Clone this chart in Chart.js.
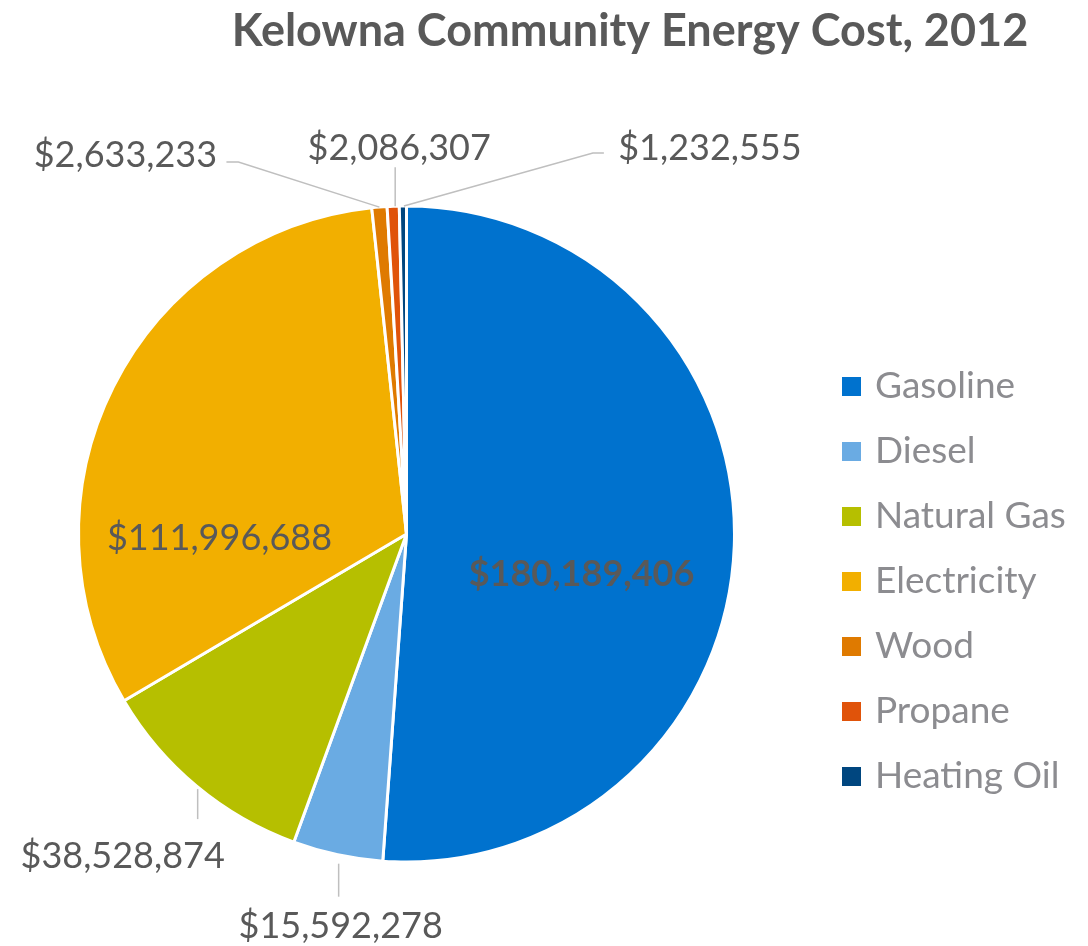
<!DOCTYPE html>
<html>
<head>
<meta charset="utf-8">
<script src="https://cdn.jsdelivr.net/npm/chart.js@4/dist/chart.umd.min.js"></script>
<style>
  html, body { margin: 0; padding: 0; background: #fff; }
  #wrap { width: 1088px; height: 946px; }
</style>
</head>
<body>
<div id="wrap"><canvas id="energyPie" width="1088" height="946"></canvas></div>
<script>
const chartTitle = 'Kelowna Community Energy Cost, 2012';
const fuels = ['Gasoline', 'Diesel', 'Natural Gas', 'Electricity', 'Wood', 'Propane', 'Heating Oil'];
const costs = [180189406, 15592278, 38528874, 111996688, 2633233, 2086307, 1232555];
const fuelColors = ['#0072CE', '#6AABE3', '#B6BF00', '#F2AF00', '#DF7A00', '#E0530A', '#00467F'];

// where each value label sits; inside ones are relative to the pie centre,
// outside ones relative to the mid point of the slice edge
const labelLayout = [
    {inside: true, dx: 175, dy: 40, bold: true},
    {dx: 3, dy: 72, leader: [[1, 9], [1, 42]]},
    {dx: -74, dy: 70, leader: [[1, 3], [1, 33]]},
    {inside: true, dx: -187, dy: 4},
    {dx: -254, dy: -52, leader: [[0, 0], [-141, -45], [-153, -45]]},
    {dx: 6, dy: -58, leader: [[2, 0], [2, -39]]},
    {dx: 307, dy: -58, leader: [[1, 0], [190, -53], [201, -53]]}
];

function money(v) {
    return '$' + v.toLocaleString('en-US');
}

const extrasPlugin = {
    id: 'extras',
    afterDraw(chart) {
        const ctx = chart.ctx;
        const meta = chart.getDatasetMeta(0);
        ctx.save();

        // title
        ctx.fillStyle = '#595959';
        ctx.font = 'bold 45px Lato';
        ctx.textAlign = 'center';
        ctx.textBaseline = 'middle';
        ctx.fillText(chartTitle, 630, 31);

        // value labels + leader lines
        meta.data.forEach((arc, i) => {
            const lay = labelLayout[i];
            const p = arc.getProps(['x', 'y', 'startAngle', 'endAngle', 'outerRadius'], true);
            const mid = (p.startAngle + p.endAngle) / 2;
            const ex = p.x + Math.cos(mid) * p.outerRadius;
            const ey = p.y + Math.sin(mid) * p.outerRadius;
            let lx, ly;
            if (lay.inside) {
                lx = p.x + lay.dx;
                ly = p.y + lay.dy;
            } else {
                lx = ex + lay.dx;
                ly = ey + lay.dy;
                ctx.strokeStyle = '#BFBFBF';
                ctx.lineWidth = 1.5;
                ctx.beginPath();
                lay.leader.forEach((pt, k) => {
                    if (k === 0) ctx.moveTo(ex + pt[0], ey + pt[1]);
                    else ctx.lineTo(ex + pt[0], ey + pt[1]);
                });
                ctx.stroke();
            }
            ctx.fillStyle = '#595959';
            ctx.font = (lay.bold ? 'bold ' : '') + '36px Lato';
            ctx.textAlign = 'center';
            ctx.textBaseline = 'middle';
            ctx.fillText(money(costs[i]), lx, ly);
        });

        // legend
        ctx.textAlign = 'left';
        ctx.font = '37px Lato';
        fuels.forEach((name, i) => {
            const y = 386 + i * 65;
            ctx.fillStyle = fuelColors[i];
            ctx.fillRect(842, y - 9, 19, 19);
            ctx.fillStyle = '#8C8C90';
            ctx.fillText(name, 875, y);
        });
        ctx.restore();
    }
};

const ctx = document.getElementById('energyPie').getContext('2d');
new Chart(ctx, {
    type: 'pie',
    data: {
        labels: fuels,
        datasets: [{
            data: costs,
            backgroundColor: fuelColors,
            borderColor: '#ffffff',
            borderWidth: 3
        }]
    },
    options: {
        responsive: false,
        animation: false,
        layout: {
            padding: {left: 77, right: 352, top: 204, bottom: 82}
        },
        plugins: {
            legend: {display: false},
            title: {display: false},
            tooltip: {enabled: false}
        }
    },
    plugins: [extrasPlugin]
});
</script>
</body>
</html>
